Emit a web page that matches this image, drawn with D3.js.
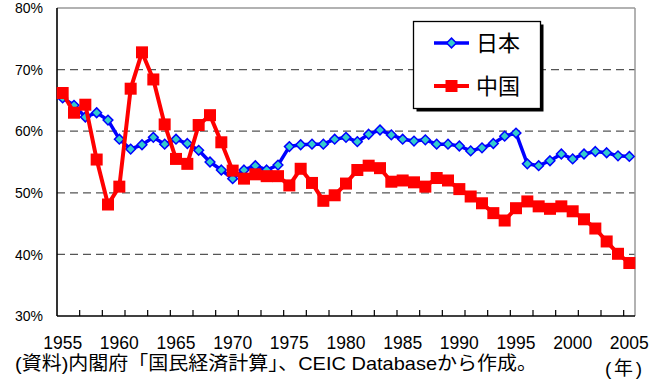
<!DOCTYPE html>
<html><head><meta charset="utf-8">
<script src="https://cdn.jsdelivr.net/npm/d3@7"></script>
<style>body{margin:0;background:#fff}svg{display:block}</style>
</head><body><svg id="c" width="665" height="380"></svg>
<script>
// Labour share series, 1955–2005
const years = [1955,1956,1957,1958,1959,1960,1961,1962,1963,1964,
  1965,1966,1967,1968,1969,1970,1971,1972,1973,1974,
  1975,1976,1977,1978,1979,1980,1981,1982,1983,1984,
  1985,1986,1987,1988,1989,1990,1991,1992,1993,1994,
  1995,1996,1997,1998,1999,2000,2001,2002,2003,2004,2005];
const japan = [65.4,64.2,62.3,63.0,61.8,58.7,57.1,57.8,59.0,57.9,
  58.7,58.0,56.9,55.0,53.7,52.3,53.7,54.4,53.7,54.5,
  57.5,57.8,57.9,57.9,58.7,59.0,58.3,59.5,60.2,59.4,
  58.7,58.4,58.6,57.9,57.9,57.6,56.8,57.3,58.0,59.2,
  59.7,54.7,54.4,55.2,56.3,55.5,56.3,56.7,56.5,56.0,55.9];
const china = [66.2,63.0,64.3,55.4,48.1,51.0,66.9,72.8,68.4,61.1,
  55.5,54.7,61.0,62.6,58.2,53.6,52.3,53.0,52.7,52.7,
  51.2,53.9,51.6,48.7,49.6,51.5,53.7,54.4,54.0,51.8,
  52.0,51.7,51.0,52.4,52.0,50.6,49.4,48.3,46.7,45.5,
  47.5,48.6,47.8,47.4,47.8,47.0,45.7,44.2,42.1,40.1,38.6];
const yTicks = [30,40,50,60,70,80];
const xLabelYears = [1955,1960,1965,1970,1975,1980,1985,1990,1995,2000,2005];
const seriesNames = ["日本","中国"];
const sourceNote = "(資料)内閣府「国民経済計算」、CEIC Databaseから作成。";
const unitNote = "(年)";

const svg = d3.select("#c");
const L = 57, R = 635, T = 8, B = 316;
const x = d3.scaleBand().domain(years).range([L, R]);
const cx = d => x(d) + x.bandwidth() / 2;
const y = d3.scaleLinear().domain([30, 80]).range([B, T]);
const latin = "'Liberation Sans', Arial, sans-serif";
const mixed = "'Liberation Sans', 'Noto Sans CJK JP', sans-serif";
const cjk = "'Noto Sans CJK JP', sans-serif";

// dashed gridlines
svg.append("g").selectAll("line").data(yTicks.filter(v => v > 30 && v < 80)).join("line")
  .attr("x1", L).attr("x2", R).attr("y1", d => y(d)).attr("y2", d => y(d))
  .attr("stroke", "#555").attr("stroke-width", 1.3).attr("stroke-dasharray", "8,5");

// plot frame: grey top/right, black axes
svg.append("line").attr("x1", L).attr("x2", R).attr("y1", T).attr("y2", T).attr("stroke", "#999").attr("stroke-width", 1.5);
svg.append("line").attr("x1", R).attr("x2", R).attr("y1", T).attr("y2", B).attr("stroke", "#999").attr("stroke-width", 1.5);

// bottom axis with inward ticks at every second category boundary
svg.append("line").attr("x1", L).attr("x2", R).attr("y1", B).attr("y2", B).attr("stroke", "#000").attr("stroke-width", 1.6);
svg.append("g").selectAll("line").data(years.filter((d, i) => i % 2 === 0 && i > 0)).join("line")
  .attr("x1", d => x(d)).attr("x2", d => x(d)).attr("y1", B).attr("y2", B - 6)
  .attr("stroke", "#000").attr("stroke-width", 1.2);
svg.append("line").attr("x1", L).attr("x2", L).attr("y1", T).attr("y2", B).attr("stroke", "#000").attr("stroke-width", 1.6);

// axis labels
svg.append("g").selectAll("text").data(yTicks).join("text")
  .attr("x", 43).attr("y", d => y(d) + 5.2).attr("text-anchor", "end")
  .attr("font-family", latin).attr("font-size", 14).attr("fill", "#000")
  .text(d => d + "%");
svg.append("g").selectAll("text").data(xLabelYears).join("text")
  .attr("x", d => cx(d)).attr("y", 348.5).attr("text-anchor", "middle")
  .attr("font-family", latin).attr("font-size", 17.5).attr("fill", "#000")
  .text(d => d);

svg.append("text").attr("x", 15).attr("y", 370)
  .attr("font-family", mixed).attr("font-size", 19).attr("fill", "#000")
  .attr("textLength", 522).attr("lengthAdjust", "spacingAndGlyphs")
  .text(sourceNote);
svg.append("text").attr("x", 605).attr("y", 375)
  .attr("font-family", mixed).attr("font-size", 19).attr("fill", "#000")
  .attr("textLength", 37).attr("lengthAdjust", "spacing")
  .text(unitNote);

// series
const line = d3.line().x((d, i) => cx(years[i])).y(d => y(d));
const diamond = d3.symbol().type(d3.symbolDiamond2).size(60);

svg.append("path").datum(japan).attr("d", line)
  .attr("fill", "none").attr("stroke", "#0000FF").attr("stroke-width", 3.5).attr("stroke-linejoin", "round");
svg.append("g").selectAll("path").data(japan).join("path")
  .attr("transform", (d, i) => `translate(${cx(years[i])},${y(d)})`)
  .attr("d", diamond).attr("fill", "#33CCCC").attr("stroke", "#0000FF").attr("stroke-width", 1.5);

svg.append("path").datum(china).attr("d", line)
  .attr("fill", "none").attr("stroke", "#FF0000").attr("stroke-width", 4).attr("stroke-linejoin", "round");
svg.append("g").selectAll("rect").data(china).join("rect")
  .attr("x", (d, i) => cx(years[i]) - 6).attr("y", d => y(d) - 6)
  .attr("width", 12).attr("height", 12).attr("fill", "#FF0000");

// legend
const lg = svg.append("g");
lg.append("rect").attr("x", 416.5).attr("y", 24.5).attr("width", 127).attr("height", 87).attr("fill", "#000");
lg.append("rect").attr("x", 413.5).attr("y", 21.5).attr("width", 127).attr("height", 87)
  .attr("fill", "#fff").attr("stroke", "#000").attr("stroke-width", 1.3);
const rows = [{name: seriesNames[0], yy: 43, color: "#0000FF"}, {name: seriesNames[1], yy: 86, color: "#FF0000"}];
rows.forEach((r, k) => {
  lg.append("line").attr("x1", 434).attr("x2", 469).attr("y1", r.yy).attr("y2", r.yy)
    .attr("stroke", r.color).attr("stroke-width", k === 0 ? 3.5 : 4);
  if (k === 0) {
    lg.append("path").attr("transform", `translate(451.5,${r.yy})`).attr("d", diamond)
      .attr("fill", "#33CCCC").attr("stroke", "#0000FF").attr("stroke-width", 1.5);
  } else {
    lg.append("rect").attr("x", 445.5).attr("y", r.yy - 6).attr("width", 12).attr("height", 12).attr("fill", "#FF0000");
  }
  lg.append("text").attr("x", 476).attr("y", r.yy + 8)
    .attr("font-family", cjk).attr("font-size", 22).attr("fill", "#000").text(r.name);
});
</script></body></html>
